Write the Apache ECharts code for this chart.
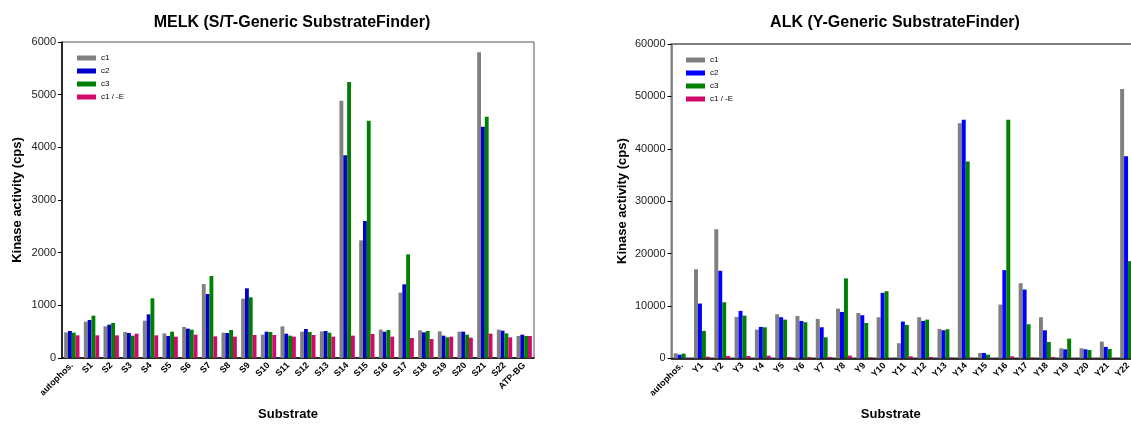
<!DOCTYPE html>
<html>
<head>
<meta charset="utf-8">
<script src="https://cdn.jsdelivr.net/npm/echarts@6/dist/echarts.min.js"></script>
<style>
html,body{margin:0;padding:0;background:#fff;}
#c{width:1131px;height:426px;}
</style>
</head>
<body>
<div id="c"></div>
<script>
var melkCats = ['autophos.','S1','S2','S3','S4','S5','S6','S7','S8','S9','S10','S11','S12','S13','S14','S15','S16','S17','S18','S19','S20','S21','S22','ATP-BG'];
var melkC1 = [487,690,601,494,709,468,589,1405,481,1127,443,601,500,506,4886,2234,538,1241,525,506,500,5804,538,418];
var melkC2 = [513,722,633,475,829,418,557,1215,475,1323,500,462,551,513,3848,2601,500,1399,487,424,500,4392,519,443];
var melkC3 = [481,804,665,424,1133,500,538,1557,532,1152,494,424,494,481,5241,4506,532,1968,513,392,443,4582,468,418];
var melkE  = [430,430,430,462,430,405,443,411,405,437,437,405,437,405,424,456,405,380,361,405,386,462,392,418];

var alkCats = ['autophos.','Y1','Y2','Y3','Y4','Y5','Y6','Y7','Y8','Y9','Y10','Y11','Y12','Y13','Y14','Y15','Y16','Y17','Y18','Y19','Y20','Y21','Y22'];
var alkC1 = [955,17000,24650,7900,5480,8410,8090,7520,9490,8660,7840,2870,7840,5610,44850,1020,10260,14330,7840,1910,1910,3190,51390];
var alkC2 = [700,10450,16700,9050,5990,7840,7130,5920,8850,8220,12490,7010,7130,5350,45560,1020,16830,13120,5350,1720,1720,2170,38560];
var alkC3 = [890,5220,10700,8150,5920,7390,6880,4010,15250,6750,12800,6370,7390,5540,37550,700,45560,6500,3120,3760,1590,1780,18550];
var alkE  = [50,320,450,450,510,255,255,255,510,190,60,380,255,130,100,60,380,130,255,30,60,30,450];

var FONT = '"Liberation Sans", Arial, sans-serif';
var GRAY = '#808080', BLUE_L = '#0000c8', BLUE_R = '#0000ff', GREEN = '#008000', PINK = '#d1096b';

function bar(name, data, color, idx) {
  return {
    type: 'bar', name: name, data: data,
    xAxisIndex: idx, yAxisIndex: idx,
    barGap: '0%', barCategoryGap: '22%',
    itemStyle: { color: color },
    animation: false
  };
}

function xAxis(cats, idx, shift) {
  return {
    type: 'category', data: cats, gridIndex: idx,
    name: 'Substrate', nameLocation: 'middle', nameGap: 50,
    nameTextStyle: { fontFamily: FONT, fontWeight: 'bold', fontSize: 13, color: '#000', padding: [0, shift, 0, 0] },
    axisLine: { lineStyle: { color: '#000', width: 1.5 } },
    axisTick: { alignWithLabel: true, length: 4, lineStyle: { color: '#000' } },
    axisLabel: { interval: 0, rotate: 45, fontFamily: FONT, fontWeight: 'bold', fontSize: 9, color: '#000', margin: 6 },
    splitLine: { show: false }
  };
}

function yAxis(max, interval, idx, gap, lineColor) {
  return {
    type: 'value', gridIndex: idx, min: 0, max: max, interval: interval,
    name: 'Kinase activity (cps)', nameLocation: 'middle', nameGap: gap, nameRotate: 90,
    nameTextStyle: { fontFamily: FONT, fontWeight: 'bold', fontSize: 13, color: '#000' },
    axisLine: { show: true, lineStyle: { color: lineColor, width: 1.5 } },
    axisTick: { show: true, length: 4, lineStyle: { color: '#000' } },
    axisLabel: { fontFamily: FONT, fontSize: 11, color: '#222', margin: 6,
      formatter: function (v) { return String(v); } },
    splitLine: { show: false }
  };
}

function legend(left, top, names) {
  return {
    left: left, top: top, orient: 'vertical',
    data: names, icon: 'rect', itemWidth: 19, itemHeight: 5, itemGap: 5,
    textStyle: { fontFamily: FONT, fontSize: 8, color: '#000', lineHeight: 8 },
    selectedMode: false
  };
}

var chart = echarts.init(document.getElementById('c'), null, { renderer: 'canvas' });
chart.setOption({
  backgroundColor: '#fff',
  animation: false,
  title: [
    { text: 'MELK (S/T-Generic SubstrateFinder)', left: 287, top: 10, textAlign: 'center',
      textStyle: { fontFamily: FONT, fontWeight: 'bold', fontSize: 16, color: '#000' } },
    { text: 'ALK (Y-Generic SubstrateFinder)', left: 890, top: 10, textAlign: 'center',
      textStyle: { fontFamily: FONT, fontWeight: 'bold', fontSize: 16, color: '#000' } }
  ],
  legend: [
    legend(72, 49, ['c1','c2','c3','c1 / -E']),
    legend(681, 51, ['c1 ','c2 ','c3 ','c1 / -E '])
  ],
  grid: [
    { left: 62, top: 42, width: 472, height: 316, show: true, borderColor: '#555', borderWidth: 1,
      outerBoundsMode: 'none', containLabel: false },
    { left: 671.5, top: 44, width: 466.7, height: 314.3, show: true, borderColor: GRAY, borderWidth: 2,
      outerBoundsMode: 'none', containLabel: false }
  ],
  xAxis: [ xAxis(melkCats, 0, 20), xAxis(alkCats, 1, 28) ],
  yAxis: [ yAxis(6000, 1000, 0, 38, '#000'), yAxis(60000, 10000, 1, 43, GRAY) ],
  series: [
    bar('c1', melkC1, GRAY, 0),
    bar('c2', melkC2, BLUE_L, 0),
    bar('c3', melkC3, GREEN, 0),
    bar('c1 / -E', melkE, PINK, 0),
    bar('c1 ', alkC1, GRAY, 1),
    bar('c2 ', alkC2, BLUE_R, 1),
    bar('c3 ', alkC3, GREEN, 1),
    bar('c1 / -E ', alkE, PINK, 1)
  ]
});
</script>
</body>
</html>
